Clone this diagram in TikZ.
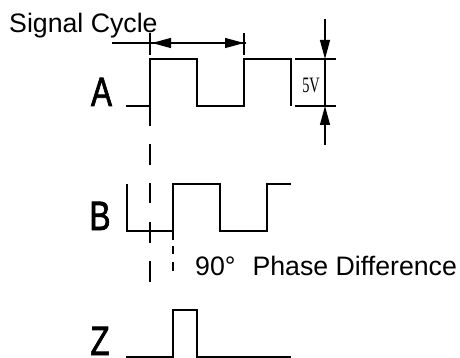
\documentclass[tikz,border=0pt]{standalone}
\usepackage{fontspec}
\setmainfont{Liberation Sans}
\newfontfamily\voltfont{Liberation Serif}
\newfontfamily\chanfont[FakeBold=2]{Liberation Sans}
\usetikzlibrary{arrows.meta}

\tikzset{
  wave/.style={line width=1.7pt, line join=miter},
  guide/.style={line width=1.4pt},
  dimline/.style={line width=1.2pt},
  dimarrow/.style={line width=1.2pt, -{Stealth[length=19pt,width=10pt,inset=0pt]}},
  caption/.style={anchor=base west, inner sep=0pt, font=\fontsize{26.7}{30}\selectfont},
  channel/.style={anchor=base, inner sep=0pt, xscale=0.77, font=\chanfont\fontsize{41}{41}\selectfont},
}

\begin{document}
\begin{tikzpicture}[x=1pt,y=-1pt]
\useasboundingbox (0,0) rectangle (460,358);

\node[caption] (cycle) at (9,33) {Signal Cycle};
\node[caption] (phase) at (195,275) {90°\hspace{17pt}Phase Difference};
\node[channel] (chanA) at (101.5,106) {A};
\node[channel] (chanB) at (100,230) {B};
\node[channel] (chanZ) at (100,355) {Z};
\node[anchor=center, inner sep=0pt, xscale=0.65, font=\voltfont\fontsize{22}{24}\selectfont] (volt) at (311,85) {5V};

% waveforms
\draw[wave] (126,106) -- (150,106) -- (150,59) -- (197,59) -- (197,106) -- (244,106) -- (244,59) -- (291,59) -- (291,106);
\draw[wave] (127,184) -- (127,231) -- (173,231) -- (173,184) -- (220,184) -- (220,231) -- (267,231) -- (267,184) -- (291,184);
\draw[wave] (126,357) -- (173,357) -- (173,310) -- (197,310) -- (197,357) -- (291,357);

% guides
\coordinate (tickAtop) at (150,33);
\coordinate (tickAend) at (150,55);
\coordinate (stepA) at (150,59);
\coordinate (stepAend) at (150,126);
\coordinate (tickCtop) at (244,33);
\coordinate (tickCend) at (244,55);
\draw[guide] (tickAtop) -- (tickAend);
\draw[guide] (stepA) -- (stepAend);
\draw[guide] (tickCtop) -- (tickCend);
\foreach \ya/\yb [count=\i] in {144/165,183/203,222/243,261/282}{
  \coordinate (dashA\i) at (150,\ya);
  \coordinate (dashB\i) at (150,\yb);
  \draw[guide] (dashA\i) -- (dashB\i);
}
\foreach \ya/\yb [count=\i] in {231/240,246/254,262/271}{
  \coordinate (dashC\i) at (173,\ya);
  \coordinate (dashD\i) at (173,\yb);
  \draw[guide] (dashC\i) -- (dashD\i);
}

% signal cycle
\coordinate (cycleL) at (112,43);
\coordinate (cycleTipL) at (152,43);
\coordinate (cycleTipR) at (244,43);
\coordinate (cycleR) at (246,43);
\draw[dimline] (cycleL) -- (cycleR);
\draw[dimarrow] (cycleR) -- (cycleTipL);
\draw[dimarrow] (cycleL) -- (cycleTipR);

% 5V
\coordinate (topL) at (295,59);
\coordinate (topR) at (336,59);
\coordinate (botL) at (295,106);
\coordinate (botR) at (336,106);
\coordinate (topTail) at (325,19);
\coordinate (topTip) at (325,59);
\coordinate (botTail) at (325,145);
\coordinate (botTip) at (325,106);
\draw[dimline] (topL) -- (topR);
\draw[dimline] (botL) -- (botR);
\draw[dimline] (topTip) -- (botTip);
\draw[dimarrow] (topTail) -- (topTip);
\draw[dimarrow] (botTail) -- (botTip);
\end{tikzpicture}
\end{document}
